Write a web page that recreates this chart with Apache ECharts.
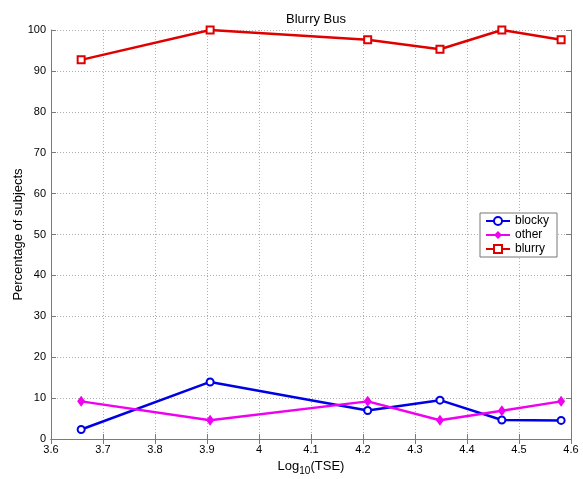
<!DOCTYPE html>
<html>
<head>
<meta charset="utf-8">
<script src="https://cdn.jsdelivr.net/npm/echarts@6/dist/echarts.min.js"></script>
<style>html,body{margin:0;padding:0;background:#fff}#c{width:583px;height:479px}</style>
</head>
<body>
<div id="c"></div>
<script>
const xValues = [3.658, 3.906, 4.209, 4.348, 4.467, 4.581];
const blocky = [2.33, 13.95, 6.98, 9.5, 4.65, 4.55];
const other = [9.2, 4.6, 9.2, 4.6, 6.9, 9.2];
const blurry = [92.7, 100, 97.6, 95.3, 100, 97.6];
const seriesNames = ['blocky', 'other', 'blurry'];

const pairs = v => xValues.map((x, i) => [x, v[i]]);
const font = 'Liberation Sans, Arial, sans-serif';
const axisGray = '#7a7a7a';
const gridStyle = { show: true, lineStyle: { color: '#b0b0b0', type: [1, 2], width: 1 } };
const frameAxis = {
  axisLine: { show: true, lineStyle: { color: axisGray } },
  axisTick: { show: true, inside: true, length: 5, lineStyle: { color: axisGray } },
  axisLabel: { show: false },
  splitLine: { show: false }
};

const chart = echarts.init(document.getElementById('c'));
chart.setOption({
  animation: false,
  backgroundColor: '#fff',
  title: {
    text: 'Blurry Bus', left: 311, top: 8, textAlign: 'center',
    textStyle: { fontFamily: font, fontSize: 13, fontWeight: 'normal', color: '#000' }
  },
  grid: { left: 51, right: 12, top: 30, bottom: 40, outerBoundsMode: 'none', containLabel: false },
  legend: {
    data: seriesNames, orient: 'vertical', left: 480, top: 213,
    backgroundColor: '#fff', borderColor: '#777', borderWidth: 1,
    padding: [2, 8, 2, 5], itemGap: 2, itemWidth: 24, itemHeight: 10,
    textStyle: { fontFamily: font, fontSize: 12, color: '#000' }
  },
  xAxis: [{
    type: 'value', min: 3.6, max: 4.6, interval: 0.1,
    name: '{a|Log}{s|10}{a|(TSE)}', nameLocation: 'middle', nameGap: 18,
    nameTextStyle: { rich: {
      a: { fontFamily: font, fontSize: 13, color: '#000' },
      s: { fontFamily: font, fontSize: 10, color: '#000', verticalAlign: 'bottom', padding: [9, 0, 0, 0] }
    } },
    axisLine: { show: true, lineStyle: { color: axisGray } },
    axisTick: { inside: true, length: 5, lineStyle: { color: axisGray } },
    axisLabel: { fontFamily: font, fontSize: 11, color: '#000', margin: 5,
      formatter: v => String(Math.round(v * 10) / 10) },
    splitLine: gridStyle
  }, Object.assign({ type: 'value', min: 3.6, max: 4.6, interval: 0.1, position: 'top' }, frameAxis)],
  yAxis: [{
    type: 'value', min: 0, max: 100, interval: 10,
    name: 'Percentage of subjects', nameLocation: 'middle', nameGap: 26, nameMoveOverlap: false,
    nameTextStyle: { fontFamily: font, fontSize: 13, color: '#000' },
    axisLine: { show: true, lineStyle: { color: axisGray } },
    axisTick: { inside: true, length: 5, lineStyle: { color: axisGray } },
    axisLabel: { fontFamily: font, fontSize: 11, color: '#000', margin: 5 },
    splitLine: gridStyle
  }, Object.assign({ type: 'value', min: 0, max: 100, interval: 10, position: 'right' }, frameAxis)],
  series: [
    { name: 'blocky', type: 'line', data: pairs(blocky), color: '#0000e6',
      symbol: 'emptyCircle', symbolSize: 7, lineStyle: { width: 2.5 },
      itemStyle: { borderWidth: 2 } },
    { name: 'other', type: 'line', data: pairs(other), color: '#f000f0',
      symbol: 'diamond', symbolSize: [8, 11], lineStyle: { width: 2.5 } },
    { name: 'blurry', type: 'line', data: pairs(blurry), color: '#e00000',
      symbol: 'emptyRect', symbolSize: 7, lineStyle: { width: 2.5 },
      itemStyle: { borderWidth: 2 } }
  ]
});
</script>
</body>
</html>
